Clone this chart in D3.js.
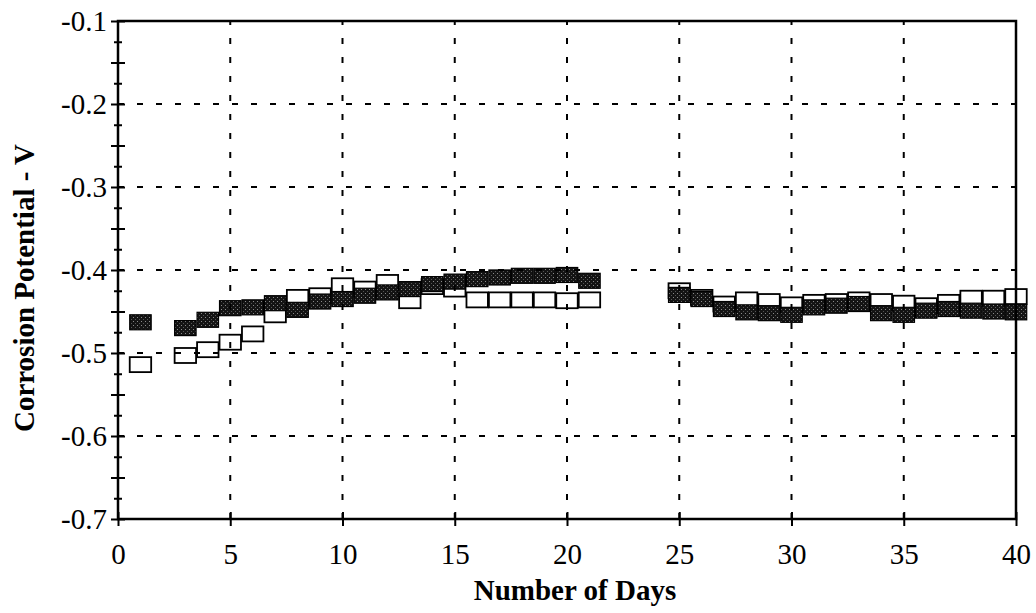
<!DOCTYPE html>
<html>
<head>
<meta charset="utf-8">
<script src="https://cdn.jsdelivr.net/npm/d3@7"></script>
<style>
  html, body { margin: 0; padding: 0; background: #fff; }
  svg { display: block; }
  text { font-family: "Liberation Serif", "Times New Roman", serif; fill: #000; }
</style>
</head>
<body>
<svg id="chart" width="1036" height="613"></svg>
<script>
// Exposure time in days (no readings on day 2 and days 22-24)
const days = [1, 3, 4, 5, 6, 7, 8, 9, 10, 11, 12, 13, 14, 15, 16, 17, 18, 19, 20, 21,
              25, 26, 27, 28, 29, 30, 31, 32, 33, 34, 35, 36, 37, 38, 39, 40];

// Corrosion potential (V), solid-square specimen
const filledSeries = [-0.463, -0.470, -0.460, -0.446, -0.445, -0.440, -0.448, -0.438, -0.435, -0.431,
                      -0.427, -0.423, -0.417, -0.414, -0.411, -0.409, -0.407, -0.407, -0.406, -0.413,
                      -0.430, -0.435, -0.447, -0.451, -0.452, -0.454, -0.445, -0.443, -0.441, -0.452,
                      -0.454, -0.449, -0.447, -0.449, -0.450, -0.451];

// Corrosion potential (V), open-square specimen
const openSeries = [-0.514, -0.503, -0.496, -0.487, -0.477, -0.454, -0.433, -0.431, -0.419, -0.423,
                    -0.415, -0.437, -0.420, -0.423, -0.436, -0.436, -0.436, -0.436, -0.437, -0.436,
                    -0.425, -0.433, -0.441, -0.436, -0.438, -0.442, -0.439, -0.438, -0.436, -0.438,
                    -0.440, -0.443, -0.439, -0.434, -0.434, -0.432];

// Axis ticks and labels
const xTicks = [0, 5, 10, 15, 20, 25, 30, 35, 40];
const xTickLabels = ["0", "5", "10", "15", "20", "25", "30", "35", "40"];
const yTicks = [-0.7, -0.6, -0.5, -0.4, -0.3, -0.2, -0.1];
const yTickLabels = ["-0.7", "-0.6", "-0.5", "-0.4", "-0.3", "-0.2", "-0.1"];
const yMidTicks = [-0.65, -0.55, -0.45, -0.35, -0.25, -0.15];
const yMinorTicks = [-0.675, -0.625, -0.575, -0.525, -0.475, -0.425, -0.375, -0.325, -0.275, -0.225, -0.175, -0.125];

const xTitle = "Number of Days";
const yTitle = "Corrosion Potential - V";

const serif = '"Liberation Serif", "Times New Roman", serif';

const svg = d3.select("#chart");
const plotLeft = 118, plotRight = 1016, plotTop = 21, plotBottom = 519;

const x = d3.scaleLinear().domain([0, 40]).range([plotLeft, plotRight]);
const y = d3.scaleLinear().domain([-0.7, -0.1]).range([plotBottom, plotTop]);

// Stippled dark fill for the solid squares
const defs = svg.append("defs");
const pat = defs.append("pattern")
  .attr("id", "stipple").attr("patternUnits", "userSpaceOnUse")
  .attr("width", 4).attr("height", 4);
pat.append("rect").attr("width", 4).attr("height", 4).attr("fill", "#141414");
pat.append("rect").attr("x", 1).attr("y", 1).attr("width", 1).attr("height", 1).attr("fill", "#8a8a8a");
pat.append("rect").attr("x", 3).attr("y", 3).attr("width", 1).attr("height", 1).attr("fill", "#555");

svg.append("rect").attr("width", 1036).attr("height", 613).attr("fill", "#fff");

const boxW = x(1) - x(0) - 1;
const boxH = 15;

const rows = days.map((d, i) => ({ day: d, filled: filledSeries[i], open: openSeries[i] }));

// Open squares underneath
svg.append("g").selectAll("rect").data(rows).join("rect")
  .attr("x", d => x(d.day) - boxW / 2)
  .attr("y", d => y(d.open) - boxH / 2)
  .attr("width", boxW).attr("height", boxH)
  .attr("fill", "#fff").attr("stroke", "#000").attr("stroke-width", 1.8);

// Solid squares on top
svg.append("g").selectAll("rect").data(rows).join("rect")
  .attr("x", d => x(d.day) - boxW / 2)
  .attr("y", d => y(d.filled) - boxH / 2)
  .attr("width", boxW).attr("height", boxH)
  .attr("fill", "url(#stipple)").attr("stroke", "#000").attr("stroke-width", 1.2);

// Dashed grid
const grid = svg.append("g").attr("stroke", "#000").attr("stroke-width", 2).attr("stroke-dasharray", "6 13");
grid.selectAll("line.v").data(xTicks.filter(t => t > 0 && t < 40)).join("line")
  .attr("class", "v")
  .attr("x1", d => x(d)).attr("x2", d => x(d))
  .attr("y1", plotBottom).attr("y2", plotTop);
grid.selectAll("line.h").data(yTicks.filter(t => t > -0.7 && t < -0.1)).join("line")
  .attr("class", "h")
  .attr("y1", d => y(d)).attr("y2", d => y(d))
  .attr("x1", plotLeft).attr("x2", plotRight);

// Frame
svg.append("rect")
  .attr("x", plotLeft).attr("y", plotTop)
  .attr("width", plotRight - plotLeft).attr("height", plotBottom - plotTop)
  .attr("fill", "none").attr("stroke", "#000").attr("stroke-width", 2.5);

// Left axis: labelled majors, mid ticks, minor ticks, all crossing the spine
const yAxis = svg.append("g").attr("transform", `translate(${plotLeft},0)`)
  .call(d3.axisLeft(y).tickValues(yTicks).tickSize(7).tickPadding(4)
    .tickFormat((d, i) => yTickLabels[i]));
yAxis.attr("font-family", serif);
yAxis.select(".domain").remove();
yAxis.selectAll(".tick line").attr("x1", 7).attr("stroke-width", 2);
yAxis.selectAll(".tick text").style("font-size", "29px").style("font-family", serif).attr("dy", "0.34em");

const yMid = svg.append("g").attr("transform", `translate(${plotLeft},0)`)
  .call(d3.axisLeft(y).tickValues(yMidTicks).tickSize(7).tickFormat(""));
yMid.select(".domain").remove();
yMid.selectAll(".tick line").attr("x1", 7).attr("stroke-width", 2);

const yMinor = svg.append("g").attr("transform", `translate(${plotLeft},0)`)
  .call(d3.axisLeft(y).tickValues(yMinorTicks).tickSize(4).tickFormat(""));
yMinor.select(".domain").remove();
yMinor.selectAll(".tick line").attr("x1", 4).attr("stroke-width", 2);

// Bottom axis
const xAxis = svg.append("g").attr("transform", `translate(0,${plotBottom})`)
  .call(d3.axisBottom(x).tickValues(xTicks).tickSize(7).tickPadding(17)
    .tickFormat((d, i) => xTickLabels[i]));
xAxis.attr("font-family", serif);
xAxis.select(".domain").remove();
xAxis.selectAll(".tick line").attr("y1", -7).attr("stroke-width", 2);
xAxis.selectAll(".tick text").style("font-size", "29px").style("font-family", serif);

// Axis titles
svg.append("text")
  .attr("x", (plotLeft + plotRight) / 2 + 8).attr("y", 600)
  .attr("text-anchor", "middle")
  .style("font-size", "29px").style("font-weight", "bold").style("font-family", serif)
  .text(xTitle);

svg.append("text")
  .attr("transform", `translate(34,${(plotTop + plotBottom) / 2 + 18}) rotate(-90)`)
  .attr("text-anchor", "middle")
  .style("font-size", "29px").style("font-weight", "bold").style("font-family", serif)
  .text(yTitle);
</script>
</body>
</html>
